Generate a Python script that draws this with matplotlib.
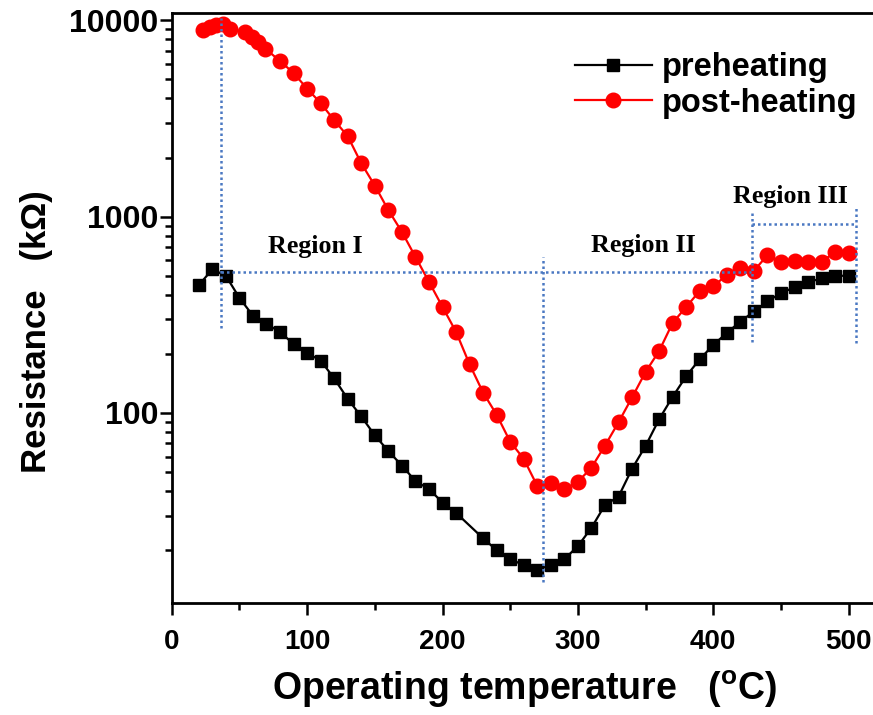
import matplotlib
matplotlib.use("Agg")
import matplotlib.pyplot as plt
from matplotlib import font_manager
from matplotlib.ticker import FixedLocator, FuncFormatter, LogLocator, NullFormatter, MultipleLocator

# ---------------- data ----------------
temp_pre = [20, 30, 40, 50, 60, 70, 80, 90, 100, 110, 120, 130, 140, 150, 160, 170, 180, 190, 200, 210,
            230, 240, 250, 260, 270, 280, 290, 300, 310, 320, 330, 340, 350, 360, 370, 380, 390, 400,
            410, 420, 430, 440, 450, 460, 470, 480, 490, 500]
res_pre = [448, 539, 500, 386, 313, 285, 258, 225, 202, 185, 150, 118, 96, 77, 64, 54, 45, 41, 35, 31,
           23, 20, 18, 16.8, 15.9, 16.8, 18, 21, 26, 34, 37.5, 52, 68, 93, 121, 154, 188, 222,
           256, 292, 329, 370, 409, 436, 464, 485, 500, 500]

temp_post = [23, 28, 33, 38, 43, 54, 59, 64, 69, 80, 90, 100, 110, 120, 130, 140, 150, 160, 170, 180,
             190, 200, 210, 220, 230, 240, 250, 260, 270, 280, 290, 300, 310, 320, 330, 340, 350, 360,
             370, 380, 390, 400, 410, 420, 430, 440, 450, 460, 470, 480, 490, 500]
res_post = [8890, 9250, 9510, 9610, 9080, 8710, 8220, 7760, 7180, 6210, 5390, 4490, 3790, 3100, 2570,
            1870, 1440, 1080, 837, 624, 466, 347, 259, 177, 127, 98, 71.4, 58.4, 42.5, 43.9, 40.9,
            44.6, 52.7, 68.2, 89.7, 120, 162, 207, 288, 347, 419, 443, 504, 548, 530, 637, 589, 596,
            585, 589, 662, 650]

series_labels = ["preheating", "post-heating"]
x_ticks = [0, 100, 200, 300, 400, 500]
y_ticks = [100, 1000, 10000]

# region guide lines (temperature, resistance)
guide_v1 = ([36.5, 36.5], [271, 10240])
guide_h1 = ([36.5, 428], [524, 524])
guide_v2 = ([274, 274], [13.8, 624])
guide_v3 = ([428.4, 428.4], [231, 1038])
guide_v4 = ([505.6, 505.6], [226, 1122])
guide_h2 = ([428.4, 505.6], [923, 923])

region_labels = ["Region I", "Region II", "Region III"]
region_pos = [(106, 701), (348, 709), (457, 1274)]

# ---------------- fonts ----------------
names = {f.name for f in font_manager.fontManager.ttflist}
sans = "Liberation Sans" if "Liberation Sans" in names else "DejaVu Sans"
serif = "Liberation Serif" if "Liberation Serif" in names else "DejaVu Serif"

# ---------------- figure ----------------
W, H = 873, 715
fig = plt.figure(figsize=(W / 100, H / 100), dpi=100)
left_px, right_px, top_px, bot_px = 171.7, 877.0, 13.0, 603.0
ax = fig.add_axes([left_px / W, 1 - bot_px / H, (right_px - left_px) / W, (bot_px - top_px) / H])

ax.plot(temp_pre, res_pre, color="black", lw=1.6, marker="s", ms=9, mfc="black", mec="black",
        label=series_labels[0], zorder=4)
ax.plot(temp_post, res_post, color="#ff0000", lw=1.6, marker="o", ms=10.5, mfc="#ff0000", mec="#ff0000",
        label=series_labels[1], zorder=3)

ax.set_yscale("log")
ax.set_xlim(0, (right_px - left_px) / 1.354)
ax.set_ylim(10.77, 10900)

dot = dict(color="#4a78c2", lw=1.8, ls=(0, (1, 1.2)), zorder=5)
for gx, gy in [guide_v1, guide_h1, guide_v2, guide_v3, guide_v4, guide_h2]:
    ax.plot(gx, gy, **dot)

for lab, (tx, ty) in zip(region_labels, region_pos):
    ax.text(tx, ty, lab, ha="center", va="center", fontsize=18.7, fontweight="bold",
            family=serif, zorder=6)

# ticks
ax.xaxis.set_major_locator(FixedLocator(x_ticks))
ax.xaxis.set_minor_locator(MultipleLocator(50))
ax.yaxis.set_major_locator(FixedLocator(y_ticks))
ax.yaxis.set_major_formatter(FuncFormatter(lambda v, p: "%d" % round(v)))
ax.yaxis.set_minor_locator(LogLocator(base=10, subs=[2, 3, 4, 5, 6, 7, 8, 9]))
ax.yaxis.set_minor_formatter(NullFormatter())
ax.tick_params(which="both", direction="out", top=False, right=False, width=1.8)
ax.tick_params(which="major", length=8.5)
ax.tick_params(which="minor", length=5)
ax.tick_params(axis="x", which="major", pad=10)
ax.tick_params(axis="y", which="major", pad=1)
for lab in ax.get_xticklabels():
    lab.set_family(sans); lab.set_fontweight("bold"); lab.set_fontsize(20)
for lab in ax.get_yticklabels():
    lab.set_family(sans); lab.set_fontweight("bold"); lab.set_fontsize(23)

for s in ax.spines.values():
    s.set_linewidth(2.0)

ax.set_xlabel("Operating temperature   ($\\mathregular{^{o}}$C)", family=sans, fontweight="bold",
              fontsize=27, labelpad=10)
ax.set_ylabel("Resistance   (k\u03a9)", family=sans, fontweight="bold", fontsize=25)
ax.yaxis.set_label_coords((53 - left_px) / (right_px - left_px), (bot_px - 332) / (bot_px - top_px))

leg = ax.legend(loc="upper left", bbox_to_anchor=(575 / W, 1 - 52 / H), bbox_transform=fig.transFigure,
                frameon=False, prop=dict(family=sans, weight="bold", size=23.5),
                handlelength=2.35, handletextpad=0.3, labelspacing=0.15, borderaxespad=0, borderpad=0)

fig.savefig("out.png", dpi=100)
